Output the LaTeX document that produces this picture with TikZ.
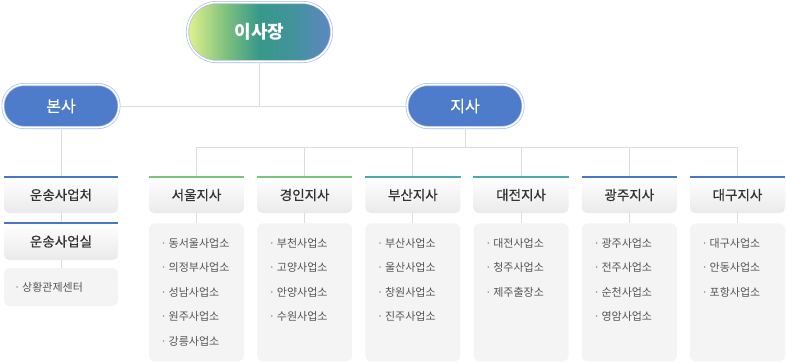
\documentclass[tikz,border=0pt]{standalone}
\usepackage{fontspec}
\setmainfont{Noto Sans CJK KR}
\newfontfamily\medfont[FakeBold=0.6]{Noto Sans CJK KR}
\usetikzlibrary{positioning}

\definecolor{pillblue}{HTML}{4E7CCB}
\definecolor{ringblue}{HTML}{A8BEEA}
\definecolor{linegray}{HTML}{DCDCDC}
\definecolor{boxgray}{HTML}{F4F4F4}
\definecolor{headgray}{HTML}{EAEAEA}
\definecolor{topgreen}{HTML}{7CC47E}
\definecolor{topteal}{HTML}{4BA9AD}
\definecolor{topblue}{HTML}{4A76C6}
\definecolor{txtdark}{HTML}{333333}
\definecolor{txtgray}{HTML}{555555}
\definecolor{chairleft}{HTML}{DDEE8C}
\definecolor{chairgreen}{HTML}{80C27E}
\definecolor{chairmid}{HTML}{37988A}
\definecolor{chairright}{HTML}{5E86C4}
\pgfdeclarehorizontalshading{chairshade}{100bp}{color(0bp)=(chairleft); color(26bp)=(chairleft);
  color(38bp)=(chairgreen); color(50bp)=(chairmid); color(62bp)=(chairmid!70!chairright);
  color(75bp)=(chairright); color(100bp)=(chairright)}

\begin{document}
\begin{tikzpicture}[x=1pt, y=-1pt,
    pill/.style={rectangle, rounded corners=21pt, minimum width=116pt, minimum height=43pt,
      inner sep=0pt, fill=pillblue, draw=ringblue, line width=0.7pt, double=white,
      double distance=1.6pt, text=white, font=\fontsize{16}{16}\medfont},
    head/.style={rectangle, rounded corners=5pt, minimum width=95pt, minimum height=36pt,
      inner sep=0pt, top color=white, bottom color=headgray, text=txtdark,
      font=\fontsize{13.5}{13.5}\medfont},
    listbox/.style={rectangle, rounded corners=6pt, minimum width=95pt, minimum height=138pt,
      inner sep=0pt, fill=boxgray},
    item/.style={anchor=west, inner sep=0pt, text=txtgray, font=\fontsize{11}{11}\selectfont},
    link/.style={draw=linegray, line width=1pt},
    topline/.style={line width=2pt}]
  \useasboundingbox (0,0) rectangle (786,362);

  % top
  \node[pill, rounded corners=29pt, minimum width=144pt, minimum height=59pt,
    shading=chairshade, font=\fontsize{18}{18}\selectfont\bfseries] (chair) at (259.5,32) {이사장};
  \node[pill] (bonsa) at (61,106) {본사};
  \node[pill] (jisa) at (465,106) {지사};

  \draw[link] (bonsa) -- (jisa);
  \draw[link] (chair) -- (chair |- bonsa);

  % head office
  \node[head, minimum width=114pt] (cheo) at (61,195) {운송사업처};
  \node[head, minimum width=114pt, minimum height=37pt] (sil) at (61,241.5) {운송사업실};
  \node[listbox, minimum width=114pt, minimum height=38pt] (center) at (61,287) {};
  \node[item] (center1) at (14,287) {\textcolor{gray}{·}\,상황관제센터};
  \draw[link] (bonsa) -- (cheo);
  \draw[link] (cheo) -- (sil);
  \draw[link] (sil) -- (center);
  \draw[topline, topblue] (cheo.north west) -- (cheo.north east);
  \draw[topline, topblue] (sil.north west) -- (sil.north east);

  % branches
  \node[head] (seoul) at (196.5,195) {서울지사};
  \node[head] (gyeongin) at (304.7,195) {경인지사};
  \node[head] (busan) at (412.9,195) {부산지사};
  \node[head] (daejeon) at (521.1,195) {대전지사};
  \node[head] (gwangju) at (629.3,195) {광주지사};
  \node[head] (daegu) at (737.5,195) {대구지사};

  \foreach \b/\c in {seoul/topgreen, gyeongin/topgreen, busan/topteal,
                     daejeon/topteal, gwangju/topblue, daegu/topblue} {
    \node[listbox, below=10pt of \b] (\b list) {};
    \draw[link] (jisa) -- ++(0,41) -| (\b);
    \draw[link] (\b) -- (\b list);
    \draw[topline, \c] (\b.north west) -- (\b.north east);
  }

  % offices
  \foreach \t [count=\i] in {동서울사업소, 의정부사업소, 성남사업소, 원주사업소, 강릉사업소}
    \node[item] (seoul\i) at (160.5,243+24.5*\i-24.5) {\textcolor{gray}{·}\,\t};
  \foreach \t [count=\i] in {부천사업소, 고양사업소, 안양사업소, 수원사업소}
    \node[item] (gyeongin\i) at (268.7,243+24.5*\i-24.5) {\textcolor{gray}{·}\,\t};
  \foreach \t [count=\i] in {부산사업소, 울산사업소, 창원사업소, 진주사업소}
    \node[item] (busan\i) at (376.9,243+24.5*\i-24.5) {\textcolor{gray}{·}\,\t};
  \foreach \t [count=\i] in {대전사업소, 청주사업소, 제주출장소}
    \node[item] (daejeon\i) at (485.1,243+24.5*\i-24.5) {\textcolor{gray}{·}\,\t};
  \foreach \t [count=\i] in {광주사업소, 전주사업소, 순천사업소, 영암사업소}
    \node[item] (gwangju\i) at (593.3,243+24.5*\i-24.5) {\textcolor{gray}{·}\,\t};
  \foreach \t [count=\i] in {대구사업소, 안동사업소, 포항사업소}
    \node[item] (daegu\i) at (701.5,243+24.5*\i-24.5) {\textcolor{gray}{·}\,\t};
\end{tikzpicture}
\end{document}
